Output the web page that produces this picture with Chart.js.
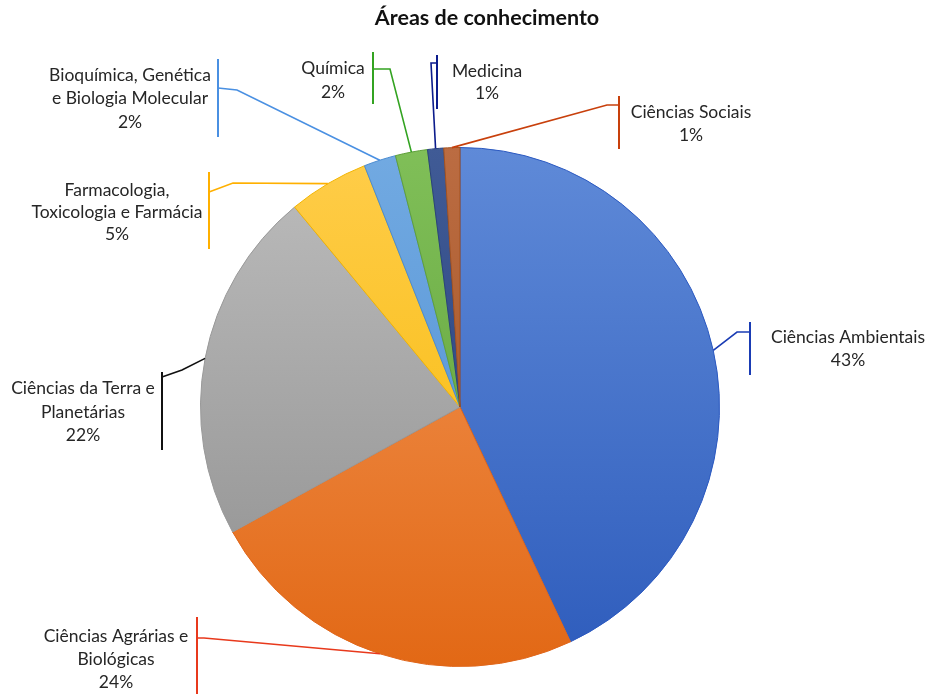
<!DOCTYPE html>
<html lang="pt">
<head>
<meta charset="utf-8">
<title>Áreas de conhecimento</title>
<script src="https://cdn.jsdelivr.net/npm/chart.js@4"></script>
<style>
  html, body { margin: 0; padding: 0; background: #fff; }
  #wrap { width: 928px; height: 694px; }
</style>
</head>
<body>
<div id="wrap"><canvas id="chartAreas" width="928" height="694"></canvas></div>
<script>
// categorias e percentuais
const titulo = "Áreas de conhecimento";
const areas = [
    ["Ciências Ambientais"],
    ["Ciências Agrárias e", "Biológicas"],
    ["Ciências da Terra e", "Planetárias"],
    ["Farmacologia,", "Toxicologia e Farmácia"],
    ["Bioquímica, Genética", "e Biologia Molecular"],
    ["Química"],
    ["Medicina"],
    ["Ciências Sociais"]
];
const percentuais = [43, 24, 22, 5, 2, 2, 1, 1];

// cores: [topo do gradiente, base do gradiente, borda, linha de chamada]
const cores = [
    ["#5f8ad8", "#2e5cbc", "#2a58c0", "#1a3cb4"],
    ["#f39a5c", "#e26815", "#e0661a", "#e8391c"],
    ["#bdbdbd", "#8e8e8e", "#999999", "#111111"],
    ["#ffcd4a", "#f5b700", "#f2b400", "#ffb000"],
    ["#72aae2", "#4a8bd0", "#4a8bd0", "#4a90e2"],
    ["#80bf58", "#5a9c36", "#5f9f3a", "#33a321"],
    ["#405b96", "#243c76", "#2a427c", "#0c1c8c"],
    ["#bb6c42", "#9e4e1c", "#a5521f", "#c8400c"]
];

// posição das caixas de rótulo: centro do texto, linhas, barra vertical e cotovelo
const rotulos = [
    { tx: 848, ty: [337, 360], bx: 750, by: [322, 375], hit: [750, 332], elbow: [737, 332] },
    { tx: 116, ty: [636, 659, 682], bx: 197, by: [617, 694], hit: [197, 638], elbow: [204, 638] },
    { tx: 83, ty: [388, 412, 435], bx: 162, by: [372, 450], hit: [162, 377], elbow: [182, 370] },
    { tx: 117, ty: [190, 212, 234], bx: 209, by: [172, 249], hit: [209, 192], elbow: [233, 183] },
    { tx: 130, ty: [75, 98, 122], bx: 218, by: [59, 137], hit: [218, 88], elbow: [237, 90] },
    { tx: 333, ty: [68, 92], bx: 373, by: [52, 104], hit: [373, 69], elbow: [390, 69] },
    { tx: 487, ty: [71, 93], bx: 437, by: [55, 109], hit: [437, 63], elbow: [431, 63] },
    { tx: 691, ty: [112, 135], bx: 619, by: [96, 149], hit: [619, 105], elbow: [607, 105] }
];

const fonte = "Lato, 'Open Sans', sans-serif";

const gradiente = (context) => {
    const c = cores[context.dataIndex];
    const area = context.chart.chartArea;
    if (!area) return c[1];
    const g = context.chart.ctx.createLinearGradient(0, area.top, 0, area.bottom);
    g.addColorStop(0, c[0]);
    g.addColorStop(1, c[1]);
    return g;
};

const chamadas = {
    id: 'chamadas',
    afterDatasetsDraw(chart) {
        const ctx = chart.ctx;
        const meta = chart.getDatasetMeta(0);
        const total = percentuais.reduce((a, b) => a + b, 0);
        ctx.save();
        meta.data.forEach((arc, i) => {
            const p = arc.getProps(['x', 'y', 'startAngle', 'endAngle', 'outerRadius'], true);
            const meio = (p.startAngle + p.endAngle) / 2;
            const ax = p.x + Math.cos(meio) * p.outerRadius;
            const ay = p.y + Math.sin(meio) * p.outerRadius;
            const r = rotulos[i];

            ctx.strokeStyle = cores[i][3];
            ctx.lineWidth = 1.6;
            ctx.beginPath();
            ctx.moveTo(ax, ay);
            ctx.lineTo(r.elbow[0], r.elbow[1]);
            ctx.lineTo(r.hit[0], r.hit[1]);
            ctx.stroke();

            ctx.lineWidth = 2;
            ctx.beginPath();
            ctx.moveTo(r.bx, r.by[0]);
            ctx.lineTo(r.bx, r.by[1]);
            ctx.stroke();

            const linhas = areas[i].concat([Math.round(percentuais[i] / total * 100) + '%']);
            ctx.fillStyle = '#262626';
            ctx.font = '17.5px ' + fonte;
            ctx.textAlign = 'center';
            ctx.textBaseline = 'middle';
            linhas.forEach((t, k) => ctx.fillText(t, r.tx, r.ty[k]));
        });

        // título
        ctx.fillStyle = '#111';
        ctx.font = 'bold 21.5px ' + fonte;
        ctx.textAlign = 'center';
        ctx.textBaseline = 'middle';
        ctx.fillText(titulo, 487, 18);
        ctx.restore();
    }
};

new Chart(document.getElementById('chartAreas').getContext('2d'), {
    type: 'pie',
    data: {
        labels: areas.map(a => a.join(' ')),
        datasets: [{
            data: percentuais,
            backgroundColor: gradiente,
            borderColor: cores.map(c => c[2]),
            borderWidth: 1
        }]
    },
    options: {
        responsive: false,
        animation: false,
        layout: { padding: { top: 147, left: 200, right: 208, bottom: 27 } },
        plugins: {
            legend: { display: false },
            tooltip: { enabled: false }
        }
    },
    plugins: [chamadas]
});
</script>
</body>
</html>
